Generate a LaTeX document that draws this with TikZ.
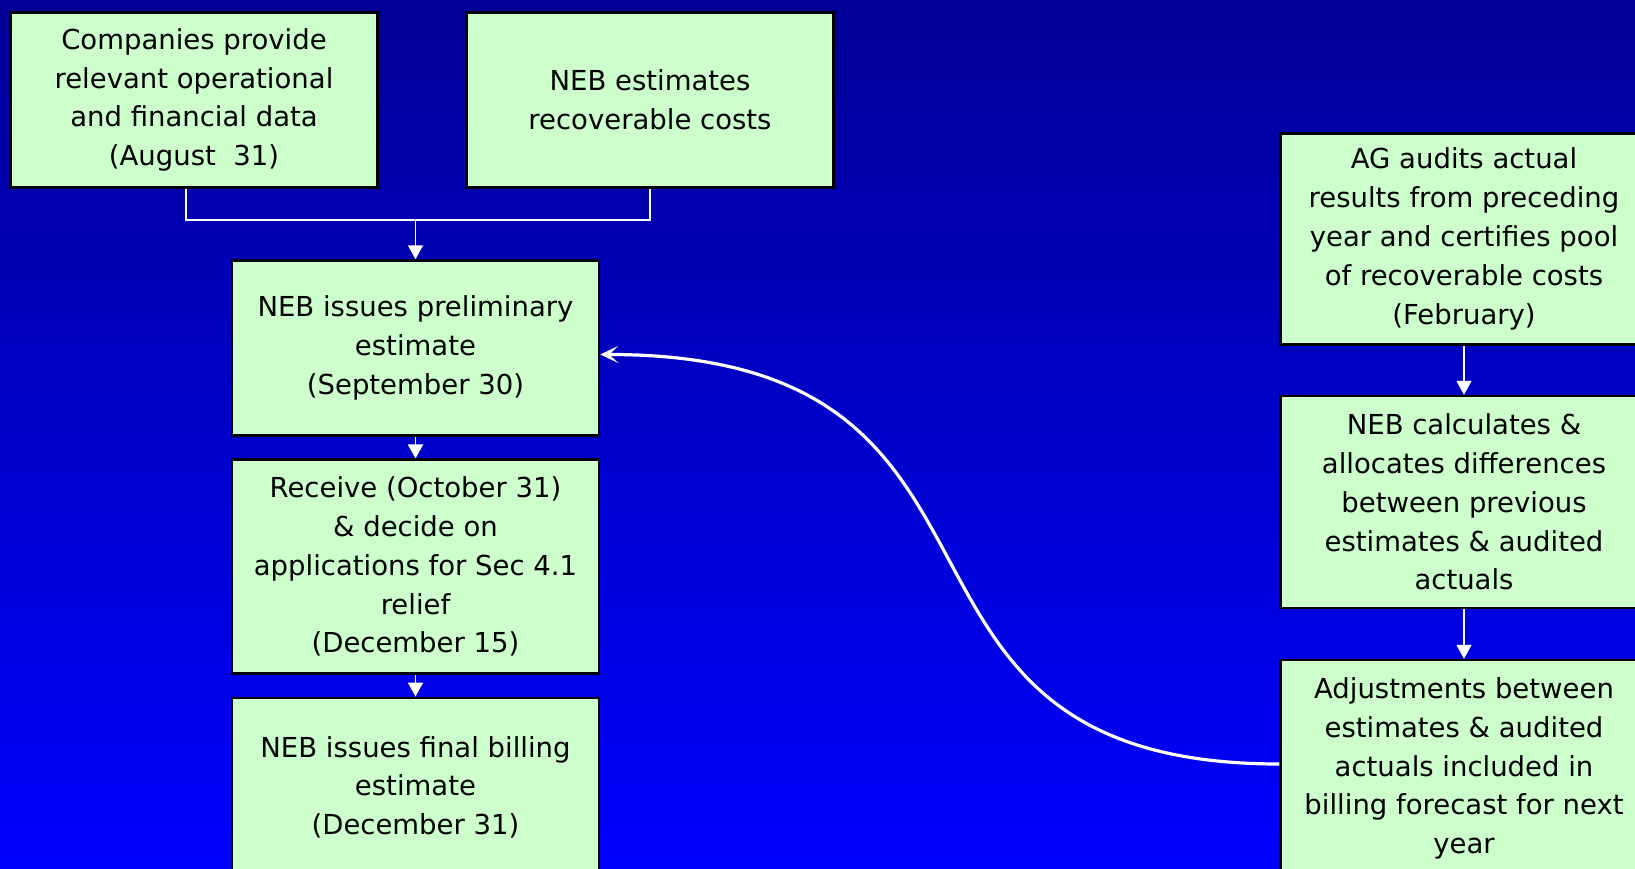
\documentclass[tikz,border=0pt]{standalone}
\usepackage{fontspec}
\setmainfont{DejaVu Sans}
\usetikzlibrary{arrows.meta}
\definecolor{boxgreen}{RGB}{204,255,204}
\definecolor{deepblue}{RGB}{0,0,150}
\definecolor{brightblue}{RGB}{0,0,255}

\begin{document}
\begin{tikzpicture}[x=1pt,y=-1pt,
    stepbox/.style={draw=black,line width=2.5pt,fill=boxgreen,align=center,inner sep=2pt,
      minimum width=367pt,font=\fontsize{27.5}{38.8}\selectfont},
    link/.style={white,line width=1.7pt},
    down arrow/.style={link,-{Triangle[length=14pt,width=15pt]}},
    feedback/.style={white,line width=3.2pt,-{Stealth[length=18pt,width=17pt,inset=9pt]}}
  ]
\shade[top color=deepblue,bottom color=brightblue] (0,0) rectangle (1635,869);
\useasboundingbox (0,0) rectangle (1635,869);

\node[stepbox,minimum height=175pt] (companies) at (194,100)
  {Companies provide\\relevant operational\\and financial data\\(August\ \ 31)};
\node[stepbox,minimum height=175pt] (nebest) at (650,100)
  {NEB estimates\\recoverable costs};
\node[stepbox,minimum height=175pt] (prelim) at (415.5,348)
  {NEB issues preliminary\\estimate\\(September 30)};
\node[stepbox,minimum height=214pt] (receive) at (415.5,566.7)
  {Receive (October 31)\\\& decide on\\applications for Sec 4.1\\relief\\(December 15)};
\node[stepbox,minimum height=179pt] (final) at (415.5,787.3)
  {NEB issues final billing\\estimate\\(December 31)};

\node[stepbox,minimum height=211pt] (audit) at (1464,239)
  {AG audits actual\\results from preceding\\year and certifies pool\\of recoverable costs\\(February)};
\node[stepbox,minimum height=212pt] (calc) at (1464,502)
  {NEB calculates \&\\allocates differences\\between previous\\estimates \& audited\\actuals};
\node[stepbox,minimum height=217pt] (adjust) at (1464,768.5)
  {Adjustments between\\estimates \& audited\\actuals included in\\billing forecast for next\\year};

\coordinate (merge) at (415.5,220);
\draw[link] ([xshift=-8pt]companies.south) |- (merge) -| (nebest.south);
\draw[down arrow] (merge) -- (prelim.north);
\draw[down arrow] (prelim) -- (receive);
\draw[down arrow] (receive) -- (final);
\draw[down arrow] (audit) -- (calc);
\draw[down arrow] (calc) -- (adjust);

\draw[feedback] ([yshift=4.5pt]adjust.west) .. controls (835,764) and (1065,354) .. ([yshift=-6.5pt]prelim.east);
\end{tikzpicture}
\end{document}
